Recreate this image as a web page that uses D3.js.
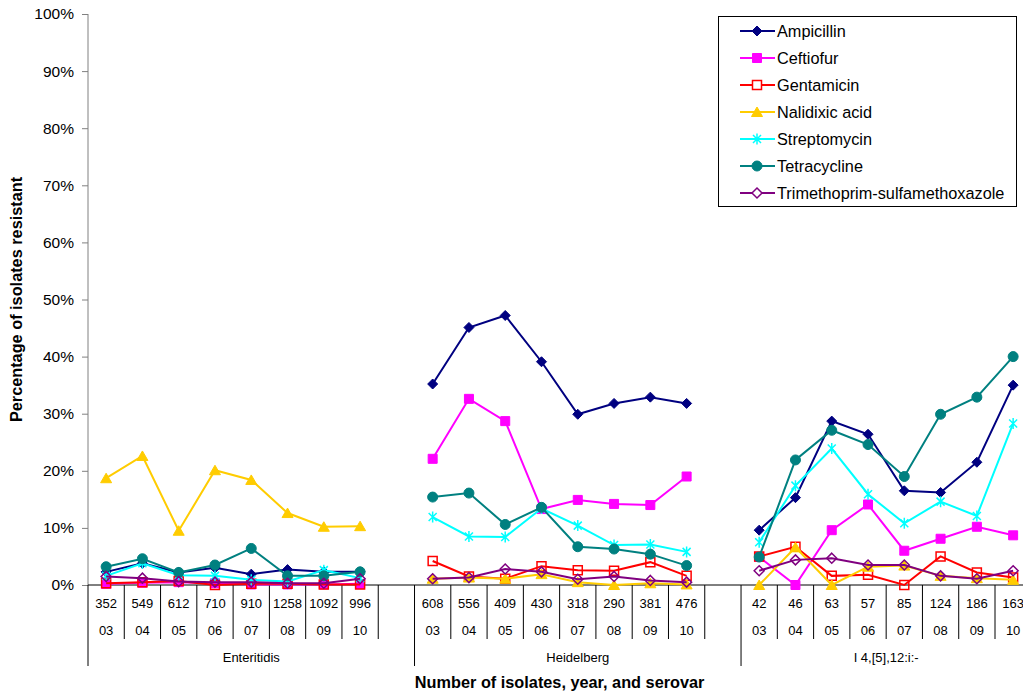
<!DOCTYPE html>
<html>
<head>
<meta charset="utf-8">
<script src="https://cdn.jsdelivr.net/npm/d3@7"></script>
<style>
  body { margin: 0; background: #fff; }
  svg { font-family: "Liberation Sans", Arial, sans-serif; }
</style>
</head>
<body>
<div id="chart"></div>
<script>
const chartEl = "#chart";

// categories
const groups = ["Enteritidis", "Heidelberg", "I 4,[5],12:i:-"];
const years = ["03", "04", "05", "06", "07", "08", "09", "10"];
const isolateCounts = [
    ["352", "549", "612", "710", "910", "1258", "1092", "996"],
    ["608", "556", "409", "430", "318", "290", "381", "476"],
    ["42", "46", "63", "57", "85", "124", "186", "163"]
];
const yTicks = [0, 10, 20, 30, 40, 50, 60, 70, 80, 90, 100];

// percent resistant, 8 years per serovar (Enteritidis, Heidelberg, I 4,[5],12:i:-)
const drugs = ["Ampicillin", "Ceftiofur", "Gentamicin", "Nalidixic acid",
               "Streptomycin", "Tetracycline", "Trimethoprim-sulfamethoxazole"];
const ampicillin = [2.3, 3.8, 2.2, 3.0, 1.9, 2.7, 2.3, 2.3,
                    35.2, 45.1, 47.2, 39.1, 29.9, 31.8, 32.9, 31.8,
                    9.6, 15.3, 28.7, 26.4, 16.5, 16.2, 21.5, 35.0];
const ceftiofur = [0.2, 0.4, 0.5, 0.3, 0.1, 0.1, 0.1, 0.2,
                   22.1, 32.6, 28.7, 13.3, 14.9, 14.2, 14.0, 19.0,
                   4.9, 0.0, 9.6, 14.1, 6.0, 8.1, 10.2, 8.7];
const gentamicin = [0.3, 0.5, 0.7, 0.0, 0.2, 0.2, 0.1, 0.1,
                    4.2, 1.5, 1.1, 3.3, 2.6, 2.5, 4.0, 1.6,
                    5.0, 6.7, 1.6, 1.8, 0.0, 5.0, 2.2, 1.3];
const nalidixic = [18.7, 22.6, 9.5, 20.1, 18.4, 12.6, 10.2, 10.3,
                   1.1, 1.3, 1.1, 1.9, 0.5, 0.0, 0.3, 0.1,
                   0.0, 6.6, 0.0, 3.2, 3.4, 1.6, 1.2, 0.9];
const streptomycin = [1.6, 3.8, 1.7, 1.6, 0.9, 0.6, 2.6, 1.2,
                      11.9, 8.5, 8.4, 13.4, 10.4, 7.0, 7.1, 5.8,
                      7.5, 17.4, 23.9, 15.9, 10.8, 14.6, 12.1, 28.3];
const tetracycline = [3.2, 4.6, 2.2, 3.5, 6.4, 1.6, 1.6, 2.3,
                      15.4, 16.1, 10.6, 13.6, 6.7, 6.3, 5.4, 3.4,
                      4.9, 21.9, 27.1, 24.6, 19.0, 29.9, 32.9, 40.0];
const trimethoprim = [1.5, 1.2, 0.6, 0.5, 0.5, 0.3, 0.3, 1.1,
                      1.1, 1.3, 2.8, 2.3, 1.0, 1.5, 0.8, 0.5,
                      2.5, 4.4, 4.7, 3.5, 3.5, 1.6, 1.1, 2.5];
const seriesValues = [ampicillin, ceftiofur, gentamicin, nalidixic,
                      streptomycin, tetracycline, trimethoprim];

const seriesStyle = [
    {color: "#000080", marker: "diamond", fill: true},
    {color: "#ff00ff", marker: "square", fill: true},
    {color: "#ff0000", marker: "square", fill: false},
    {color: "#ffcc00", marker: "triangle", fill: true},
    {color: "#00ffff", marker: "asterisk", fill: false},
    {color: "#008080", marker: "circle", fill: true},
    {color: "#800080", marker: "diamond", fill: false}
];

function markerPath(type) {
    /* Excel-ish marker outlines centred on 0,0 */
    if (type == "diamond") return "M0,-5L5,0L0,5L-5,0Z";
    if (type == "square") return "M-4.5,-4.5H4.5V4.5H-4.5Z";
    if (type == "triangle") return "M0,-5L5.5,4.5L-5.5,4.5Z";
    if (type == "circle") return "M5,0A5,5 0 1,1 -5,0A5,5 0 1,1 5,0Z";
    return "M-4,-4L4,4M-4,4L4,-4M0,-5.5L0,5.5";
}

const width = 1023, height = 694;
const plotLeft = 88, plotTop = 14, plotBottom = 585;
const slotWidth = 36.28;
const slotsPerGroup = years.length + 1;
const nSlots = groups.length * slotsPerGroup - 1;

var svg = d3.select(chartEl).append("svg")
    .attr("width", width)
    .attr("height", height);

var x = d3.scaleBand()
    .domain(d3.range(nSlots))
    .range([plotLeft, plotLeft + nSlots * slotWidth])
    .padding(0);
var y = d3.scaleLinear().domain([0, 100]).range([plotBottom, plotTop]);

function slotOf(idx) {
    // index in a series -> category slot (one blank slot after each serovar)
    return Math.floor(idx / years.length) * slotsPerGroup + idx % years.length;
}

// y axis
var yAxis = svg.append("g")
    .attr("transform", "translate(" + plotLeft + ",0)")
    .call(d3.axisLeft(y).tickValues(yTicks).tickSize(6).tickPadding(8)
          .tickFormat(function(d) { return d + "%"; }));
yAxis.selectAll("text").attr("font-size", 15.5).attr("fill", "#000")
    .attr("font-family", "Liberation Sans, Arial, sans-serif");
yAxis.selectAll("line, path").attr("stroke", "#808080");
yAxis.select(".domain").attr("d", "M0," + plotTop + "V" + plotBottom);

// category axis: baseline and three label levels
var cat = svg.append("g");
cat.append("line")
    .attr("x1", plotLeft).attr("x2", width)
    .attr("y1", plotBottom).attr("y2", plotBottom)
    .attr("stroke", "#000");

groups.forEach(function(g, gi) {
    var start = gi * slotsPerGroup;
    // group separator at left
    cat.append("line")
        .attr("x1", x(start)).attr("x2", x(start))
        .attr("y1", plotBottom).attr("y2", 666)
        .attr("stroke", "#000");
    years.forEach(function(yr, yi) {
        var s = start + yi;
        var cx = x(s) + x.bandwidth() / 2;
        cat.append("line")
            .attr("x1", x(s) + x.bandwidth()).attr("x2", x(s) + x.bandwidth())
            .attr("y1", plotBottom).attr("y2", 639)
            .attr("stroke", "#000");
        cat.append("text")
            .attr("x", cx).attr("y", 608)
            .attr("text-anchor", "middle").attr("font-size", 13)
            .text(isolateCounts[gi][yi]);
        cat.append("text")
            .attr("x", cx).attr("y", 635)
            .attr("text-anchor", "middle").attr("font-size", 13)
            .text(yr);
    });
    var gx = x(start) + years.length * slotWidth / 2 + (gi < groups.length - 1 ? slotWidth / 2 : 0);
    cat.append("text")
        .attr("x", gx).attr("y", 662)
        .attr("text-anchor", "middle").attr("font-size", 13)
        .text(g);
});

// axis titles
svg.append("text")
    .attr("x", (plotLeft + plotLeft + nSlots * slotWidth) / 2)
    .attr("y", 688)
    .attr("text-anchor", "middle")
    .attr("font-size", 16.3).attr("font-weight", "bold")
    .text("Number of isolates, year, and serovar");
svg.append("text")
    .attr("transform", "translate(22," + (plotTop + plotBottom) / 2 + ") rotate(-90)")
    .attr("text-anchor", "middle")
    .attr("font-size", 16.3).attr("font-weight", "bold")
    .text("Percentage of isolates resistant");

// series
var line = d3.line()
    .x(function(d) { return x(d.slot) + x.bandwidth() / 2; })
    .y(function(d) { return y(d.value); });

seriesValues.forEach(function(vals, si) {
    var st = seriesStyle[si];
    var g = svg.append("g");
    for (var gi = 0; gi < groups.length; gi++) {
        var pts = [];
        for (var k = 0; k < years.length; k++) {
            var idx = gi * years.length + k;
            pts.push({slot: slotOf(idx), value: vals[idx]});
        }
        g.append("path")
            .attr("d", line(pts))
            .attr("fill", "none")
            .attr("stroke", st.color)
            .attr("stroke-width", 2);
    }
    g.selectAll(".mk")
        .data(vals.map(function(v, i) { return {slot: slotOf(i), value: v}; }))
        .join("path")
        .attr("class", "mk")
        .attr("transform", function(d) {
            return "translate(" + (x(d.slot) + x.bandwidth() / 2) + "," + y(d.value) + ")";
        })
        .attr("d", markerPath(st.marker))
        .attr("fill", st.fill ? st.color : "none")
        .attr("stroke", st.color)
        .attr("stroke-width", st.fill ? 1 : 1.5);
});

// legend
var legend = svg.append("g");
legend.append("rect")
    .attr("x", 718.5).attr("y", 16.5)
    .attr("width", 298).attr("height", 190)
    .attr("fill", "#fff").attr("stroke", "#000");
drugs.forEach(function(name, i) {
    var st = seriesStyle[i];
    var ly = 31 + i * 27;
    legend.append("line")
        .attr("x1", 740).attr("x2", 775)
        .attr("y1", ly).attr("y2", ly)
        .attr("stroke", st.color).attr("stroke-width", 2);
    legend.append("path")
        .attr("transform", "translate(757," + ly + ")")
        .attr("d", markerPath(st.marker))
        .attr("fill", st.fill ? st.color : "#fff")
        .attr("stroke", st.color)
        .attr("stroke-width", st.fill ? 1 : 1.5);
    legend.append("text")
        .attr("x", 777).attr("y", ly + 6)
        .attr("font-size", 16.3)
        .text(name);
});
</script>
</body>
</html>
